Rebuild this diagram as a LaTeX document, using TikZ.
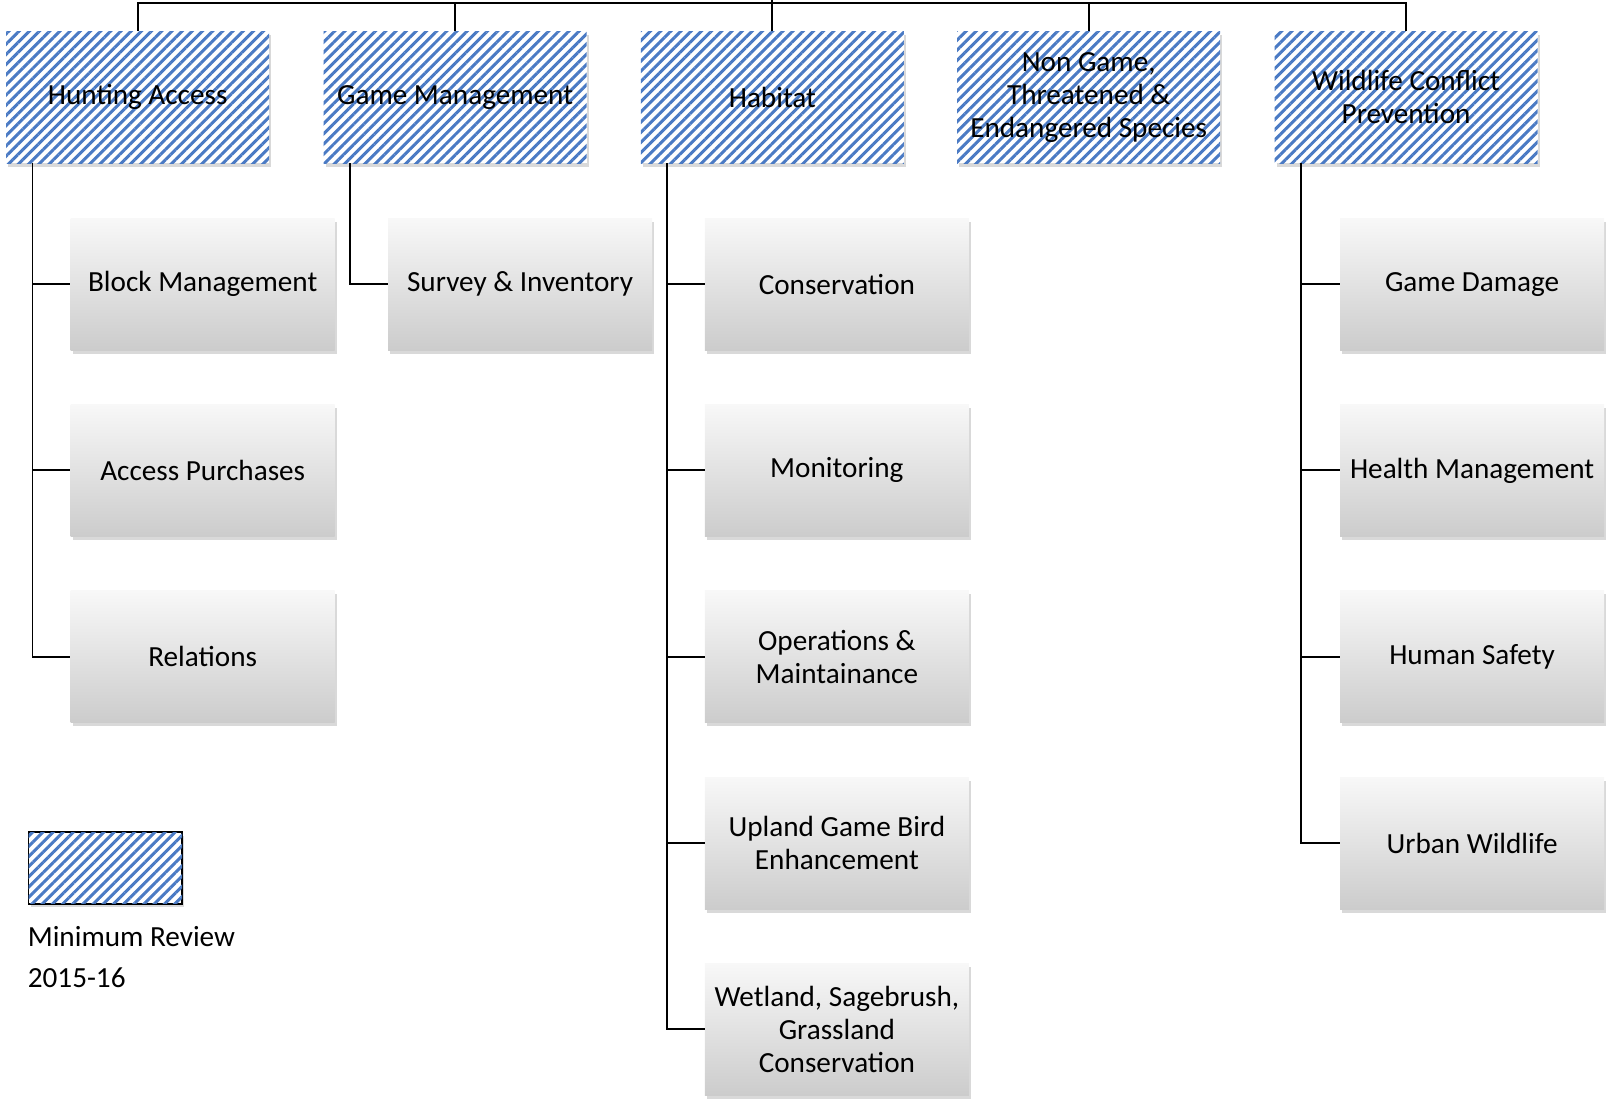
\documentclass[tikz,border=0pt]{standalone}
\usepackage{fontspec}
\setmainfont{Carlito}
\usetikzlibrary{patterns.meta,shadows}
\definecolor{hatchblue}{RGB}{74,122,196}
\definecolor{boxtop}{RGB}{248,248,248}
\definecolor{boxbot}{RGB}{204,204,204}
\begin{document}
\begin{tikzpicture}[x=1.0237pt,y=-1.0237pt,
  area/.style={minimum width=263pt,minimum height=132pt,inner sep=0pt,align=center,
    font=\fontsize{29.2}{32.8}\selectfont,fill=white,
    drop shadow={opacity=0.3,shadow xshift=2pt,shadow yshift=-3.5pt},
    postaction={pattern={Lines[angle=45,distance=7.2pt,line width=3pt]},pattern color=hatchblue}},
  task/.style={minimum width=264pt,minimum height=132pt,inner sep=0pt,align=center,
    font=\fontsize{29.2}{32.8}\selectfont,top color=boxtop,bottom color=boxbot,
    drop shadow={opacity=0.3,shadow xshift=2pt,shadow yshift=-3.5pt}},
  link/.style={line width=1.8pt,black}]
\useasboundingbox (0pt,0pt) rectangle (1606pt,-1099pt);
\node [area] (hunt) at (134.5,95) {Hunting Access};
\node [area] (game) at (444.5,95) {Game Management};
\node [area] (hab) at (754.5,95) {Habitat};
\node [area] (nongame) at (1063.5,95) {Non Game,\\Threatened \&\\Endangered Species};
\node [area] (wild) at (1373.5,95) {Wildlife Conflict\\Prevention};
\coordinate (bus) at (754.5,3);
\draw [link] (hunt.north) |- (bus) -| (wild.north);
\draw [link] (hab.north) -- (754.5,0);
\draw [link] (game.north) -- (game.north |- bus);
\draw [link] (nongame.north) -- (nongame.north |- bus);
\node [task] (block) at (198,277.5) {Block Management};
\node [task] (purch) at (198,459.5) {Access Purchases};
\node [task] (rel) at (198,641.5) {Relations};
\node [task] (survey) at (508,277.5) {Survey \& Inventory};
\node [task] (cons) at (817.5,277.5) {Conservation};
\node [task] (mon) at (817.5,459.5) {Monitoring};
\node [task] (ops) at (817.5,641.5) {Operations \&\\Maintainance};
\node [task] (upland) at (817.5,823.5) {Upland Game Bird\\Enhancement};
\node [task] (wet) at (817.5,1005.5) {Wetland, Sagebrush,\\Grassland\\Conservation};
\node [task] (damage) at (1438,277.5) {Game Damage};
\node [task] (health) at (1438,459.5) {Health Management};
\node [task] (safety) at (1438,641.5) {Human Safety};
\node [task] (urban) at (1438,823.5) {Urban Wildlife};
\draw [link] ([xshift=26.6pt]hunt.south west) |- (rel.west);
\draw [link] ([xshift=26.6pt]hunt.south west) |- (block.west);
\draw [link] ([xshift=26.6pt]hunt.south west) |- (purch.west);
\draw [link] ([xshift=26.6pt]game.south west) |- (survey.west);
\draw [link] ([xshift=26.6pt]hab.south west) |- (wet.west);
\draw [link] ([xshift=26.6pt]hab.south west) |- (cons.west);
\draw [link] ([xshift=26.6pt]hab.south west) |- (mon.west);
\draw [link] ([xshift=26.6pt]hab.south west) |- (ops.west);
\draw [link] ([xshift=26.6pt]hab.south west) |- (upland.west);
\draw [link] ([xshift=26.6pt]wild.south west) |- (urban.west);
\draw [link] ([xshift=26.6pt]wild.south west) |- (damage.west);
\draw [link] ([xshift=26.6pt]wild.south west) |- (health.west);
\draw [link] ([xshift=26.6pt]wild.south west) |- (safety.west);
\node [area,draw=black,line width=1.6pt,minimum width=153.5pt,minimum height=71.7pt] (key) at (103,848) {};
\node [anchor=west,inner sep=0pt,font=\fontsize{29.2}{32.8}\selectfont] (keytext) at (27,915) {Minimum Review};
\node [anchor=west,inner sep=0pt,font=\fontsize{29.2}{32.8}\selectfont] (keyyear) at (27,955) {2015-16};
\end{tikzpicture}
\end{document}
